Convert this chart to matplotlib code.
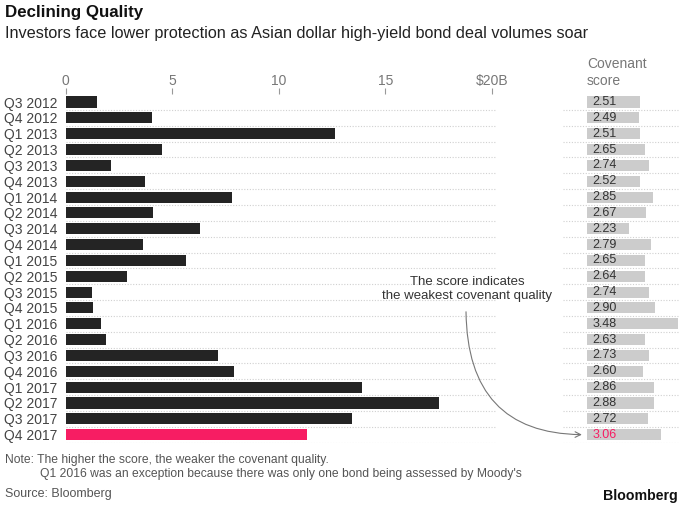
import matplotlib.pyplot as plt

plt.rcParams['font.family'] = ['Liberation Sans', 'DejaVu Sans']

quarters = ['Q3 2012', 'Q4 2012', 'Q1 2013', 'Q2 2013', 'Q3 2013', 'Q4 2013',
            'Q1 2014', 'Q2 2014', 'Q3 2014', 'Q4 2014', 'Q1 2015', 'Q2 2015',
            'Q3 2015', 'Q4 2015', 'Q1 2016', 'Q2 2016', 'Q3 2016', 'Q4 2016',
            'Q1 2017', 'Q2 2017', 'Q3 2017', 'Q4 2017']
volumes = [1.45, 4.03, 12.64, 4.51, 2.12, 3.73, 7.81, 4.11, 6.31, 3.61, 5.63, 2.87,
           1.22, 1.27, 1.65, 1.88, 7.14, 7.90, 13.90, 17.52, 13.42, 11.31]
scores = [2.51, 2.49, 2.51, 2.65, 2.74, 2.52, 2.85, 2.67, 2.23, 2.79, 2.65, 2.64,
          2.74, 2.90, 3.48, 2.63, 2.73, 2.60, 2.86, 2.88, 2.72, 3.06]
xticks = [0, 5, 10, 15, 20]
xtick_labels = ['0', '5', '10', '15', '$20B']

W, H = 680, 505
DARK = '#242424'
PINK = '#f71d63'
GREY_BAR = '#cccccc'
GRID = '#d0d0d0'

fig = plt.figure(figsize=(W / 100, H / 100), dpi=100)
fig.patch.set_facecolor('white')

n = len(quarters)
ys = list(range(n))
colors = [DARK] * (n - 1) + [PINK]

# pixel box helper
def box(x0, x1, y0, y1):
    return [x0 / W, 1 - y1 / H, (x1 - x0) / W, (y1 - y0) / H]

row_top, row_h = 94.1, 15.84
y_bot = row_top + n * row_h

ax = fig.add_axes(box(65.7, 496, row_top, y_bot))
ax.barh(ys, volumes, height=0.7, color=colors, zorder=2)
ax.set_xlim(0, 20.2)
ax.set_ylim(n - 0.5, -0.5)
for y in ys:
    ax.axhline(y + 0.5, color=GRID, lw=0.8, ls=(0, (1, 1.5)), zorder=1)
ax.xaxis.tick_top()
ax.set_xticks(xticks)
ax.set_xticklabels(xtick_labels, fontsize=10, color='#777777')
ax.tick_params(axis='x', length=4, width=0.8, color='#999999', pad=0.5)
ax.set_yticks(ys)
ax.set_yticklabels(quarters, fontsize=10, color='#444444')
ax.tick_params(axis='y', length=0, pad=6)
for s in ax.spines.values():
    s.set_visible(False)

# covenant score panel
x_left, x_base, x_right = 563, 587, 680
px_per_unit = 39.2
base = 1.16
ax2 = fig.add_axes(box(x_left, x_right, row_top, y_bot))
ax2.barh(ys, [s - base for s in scores], left=base, height=0.7, color=GREY_BAR, zorder=2)
ax2.set_xlim(base - (x_base - x_left) / px_per_unit, base + (x_right - x_base) / px_per_unit)
ax2.set_ylim(n - 0.5, -0.5)
for y in ys:
    ax2.axhline(y + 0.5, color=GRID, lw=0.8, ls=(0, (1, 1.5)), zorder=1)
for y, s in zip(ys, scores):
    ax2.text(base + 0.13, y, f'{s:.2f}', va='center', ha='left', fontsize=9,
             color=PINK if y == n - 1 else '#333333', zorder=3)
ax2.axis('off')

fig.text(587 / W, 1 - 72.5 / H, 'Covenant\nscore', fontsize=10, color='#777777',
         ha='left', va='center', linespacing=1.3)

# annotation
fig.text(467 / W, 1 - 289 / H, 'The score indicates\nthe weakest covenant quality',
         fontsize=9.5, color='#333333', ha='center', va='center', linespacing=1.15)
ax2.annotate('', xy=(base - 0.06, n - 1), xycoords='data',
             xytext=(466 / W, 1 - 309 / H), textcoords='figure fraction',
             arrowprops=dict(arrowstyle='->', color='#777777', lw=0.8,
                             connectionstyle='angle3,angleA=90,angleB=0'))

fig.text(5 / W, 1 - 13 / H, 'Declining Quality', fontsize=12.2, fontweight='bold',
         color='#111111', va='center')
fig.text(5 / W, 1 - 33 / H,
         'Investors face lower protection as Asian dollar high-yield bond deal volumes soar',
         fontsize=11.7, color='#222222', va='center')

fig.text(5 / W, 1 - 460 / H, 'Note: The higher the score, the weaker the covenant quality.',
         fontsize=8.7, color='#555555', va='center')
fig.text(40 / W, 1 - 474 / H,
         "Q1 2016 was an exception because there was only one bond being assessed by Moody's",
         fontsize=8.7, color='#555555', va='center')
fig.text(5 / W, 1 - 494 / H, 'Source: Bloomberg', fontsize=9, color='#555555', va='center')
fig.text(678 / W, 1 - 496 / H, 'Bloomberg', fontsize=10.2, fontweight='bold',
         color='#111111', ha='right', va='center')

fig.savefig('out.png', dpi=100)
